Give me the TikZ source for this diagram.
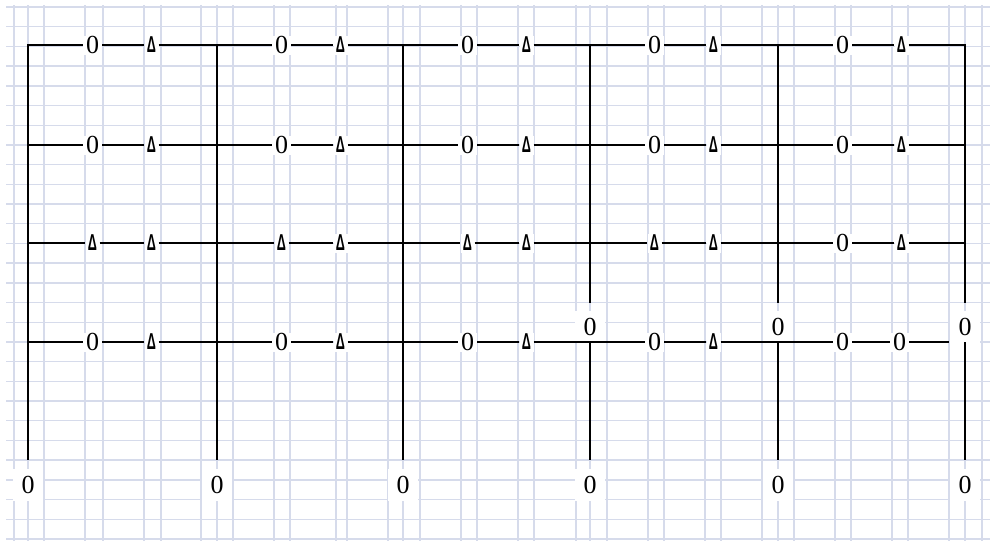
\documentclass[tikz,border=0pt]{standalone}
\usepackage{fontspec}
\newfontfamily\zfont{Liberation Serif}
\newfontfamily\dfont{Liberation Sans}
\definecolor{gridc}{RGB}{214,219,235}
\tikzset{
  gridline/.style={draw=gridc, line width=1.4pt},
  wire/.style={draw=black, line width=2.4pt},
  zl/.style={fill=white, inner sep=0pt, minimum width=19pt, minimum height=19pt, font=\zfont\fontsize{26}{26}\selectfont},
  dl/.style={fill=white, inner sep=0pt, minimum width=14pt, minimum height=19pt},
  zs/.style={fill=white, inner sep=0pt, minimum width=30pt, minimum height=32pt, font=\zfont\fontsize{26}{26}\selectfont},
}
\newcommand{\tri}{\scalebox{0.55}[1]{\dfont\bfseries\fontsize{23}{23}\selectfont Δ}}
\begin{document}
\begin{tikzpicture}[x=1pt,y=-1pt]
\useasboundingbox (0,0) rectangle (990,541);
\fill[white] (0,0) rectangle (990,541);
% background grid
\foreach \k in {0,...,27} \draw[gridline] (6,{7+19.7*\k}) -- (990,{7+19.7*\k});
\foreach \gx in {14,28,44,85,103,144,161,201,217,233,274,290,336,347,388,403,420,461,477,518,534,576,590,607,648,664,705,721,762,778,794,835,851,892,908,949,965,982}
  \draw[gridline] (\gx,5) -- (\gx,541);
% intersections
\foreach \c/\x in {1/28,2/217,3/403,4/590,5/778,6/965}{
  \foreach \r/\y in {1/45,2/145,3/243,4/342}{
    \coordinate (P-\r-\c) at (\x,\y);
  }
  \coordinate (B-\c) at (\x,460);
  \coordinate (T-\c) at (\x,303);
  \node[zs] (Z-\c) at (\x,485) {0};
}
\coordinate (E) at (949,342);
\node[zs] (M-4) at (590,327) {0};
\node[zs] (M-5) at (778,327) {0};
\node[zs] (M-6) at (965,327) {0};
% line labels
\foreach \s/\x in {1/28,2/217,3/403,4/590,5/778}{
  \node[zl] (L-1-\s-a) at (\x+64.5,45) {0};
  \node[dl] (L-1-\s-b) at (\x+123.5,45) {\tri};
  \node[zl] (L-2-\s-a) at (\x+64.5,145) {0};
  \node[dl] (L-2-\s-b) at (\x+123.5,145) {\tri};
}
\foreach \s/\x in {1/28,2/217,3/403,4/590}{
  \node[dl] (L-3-\s-a) at (\x+64.5,243) {\tri};
  \node[dl] (L-3-\s-b) at (\x+123.5,243) {\tri};
  \node[zl] (L-4-\s-a) at (\x+64.5,342) {0};
  \node[dl] (L-4-\s-b) at (\x+123.5,342) {\tri};
}
\node[zl] (L-3-5-a) at (842.5,243) {0};
\node[dl] (L-3-5-b) at (901.5,243) {\tri};
\node[zl] (L-4-5-a) at (842.5,342) {0};
\node[zl] (L-4-5-b) at (899.5,342) {0};
% wires
\draw[wire] (B-1) -- (P-1-1) -- (L-1-1-a) -- (L-1-1-b) -- (P-1-2) -- (L-1-2-a) -- (L-1-2-b) -- (P-1-3) -- (L-1-3-a) -- (L-1-3-b) -- (P-1-4) -- (L-1-4-a) -- (L-1-4-b) -- (P-1-5) -- (L-1-5-a) -- (L-1-5-b) -- (P-1-6) -- (T-6);
\foreach \r in {2,3}{
  \draw[wire] (P-\r-1) -- (L-\r-1-a) -- (L-\r-1-b) -- (P-\r-2) -- (L-\r-2-a) -- (L-\r-2-b) -- (P-\r-3) -- (L-\r-3-a) -- (L-\r-3-b) -- (P-\r-4) -- (L-\r-4-a) -- (L-\r-4-b) -- (P-\r-5) -- (L-\r-5-a) -- (L-\r-5-b) -- (P-\r-6);
}
\draw[wire] (P-4-1) -- (L-4-1-a) -- (L-4-1-b) -- (P-4-2) -- (L-4-2-a) -- (L-4-2-b) -- (P-4-3) -- (L-4-3-a) -- (L-4-3-b) -- (P-4-4) -- (L-4-4-a) -- (L-4-4-b) -- (P-4-5) -- (L-4-5-a) -- (L-4-5-b) -- (E);
\draw[wire] (P-1-2) -- (B-2);
\draw[wire] (P-1-3) -- (B-3);
\draw[wire] (P-1-4) -- (T-4);
\draw[wire] (P-1-5) -- (T-5);
\foreach \c in {4,5,6} \draw[wire] (P-4-\c) -- (B-\c);
\end{tikzpicture}
\end{document}
